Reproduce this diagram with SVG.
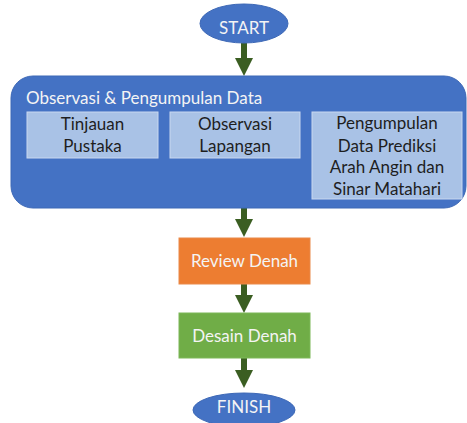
<svg xmlns="http://www.w3.org/2000/svg" width="467" height="423" viewBox="0 0 467 423">
<style>
text{font-family:Lato,"Liberation Sans",sans-serif;font-size:17px;text-anchor:middle}
.w{fill:#f4f4f4}
.d{fill:#1e1e1e}
.blue{fill:#4472c4;stroke:#3d68b6;stroke-width:1}
.sub{fill:#a9c2e6;stroke:#c9d8f0;stroke-width:1}
.arr{fill:#3b5e22}
</style>
<rect width="467" height="423" fill="#ffffff"/>
<g id="connectors">
<polygon class="arr" points="241,43 247,43 247,58 253,58 244,76 235,58 241,58"/>
<polygon class="arr" points="241,208 247,208 247,219 253,219 244,237 235,219 241,219"/>
<polygon class="arr" points="241,284 247,284 247,295 253,295 244,313 235,295 241,295"/>
<polygon class="arr" points="241,358 247,358 247,370 253,370 244,388 235,370 241,370"/>
</g>
<g id="start">
<ellipse class="blue" cx="244" cy="23.5" rx="44" ry="19.5"/>
<text class="w" x="244" y="34">START</text>
</g>
<g id="observasi">
<rect class="blue" x="11" y="76" width="455" height="132" rx="22"/>
<text class="w" x="26" y="104" style="text-anchor:start">Observasi &amp; Pengumpulan Data</text>
</g>
<g id="tinjauan">
<rect class="sub" x="27" y="112" width="131" height="46"/>
<text class="d" x="92.5" y="130">Tinjauan</text>
<text class="d" x="92.5" y="152">Pustaka</text>
</g>
<g id="lapangan">
<rect class="sub" x="170" y="112" width="130" height="46"/>
<text class="d" x="235" y="130">Observasi</text>
<text class="d" x="235" y="152">Lapangan</text>
</g>
<g id="pengumpulan">
<rect class="sub" x="312" y="112" width="150" height="87"/>
<text class="d" x="387" y="129">Pengumpulan</text>
<text class="d" x="387" y="152">Data Prediksi</text>
<text class="d" x="387" y="173">Arah Angin dan</text>
<text class="d" x="387" y="195">Sinar Matahari</text>
</g>
<g id="review">
<rect x="179" y="238" width="131" height="46" fill="#ed7d31" stroke="#e98a4a" stroke-width="1"/>
<text class="w" x="244.5" y="267">Review Denah</text>
</g>
<g id="desain">
<rect x="179" y="313" width="131" height="45" fill="#70ad47" stroke="#7db858" stroke-width="1"/>
<text class="w" x="244.5" y="342">Desain Denah</text>
</g>
<g id="finish">
<ellipse class="blue" cx="244" cy="410" rx="51" ry="17"/>
<text class="w" x="244" y="413">FINISH</text>
</g>
</svg>
